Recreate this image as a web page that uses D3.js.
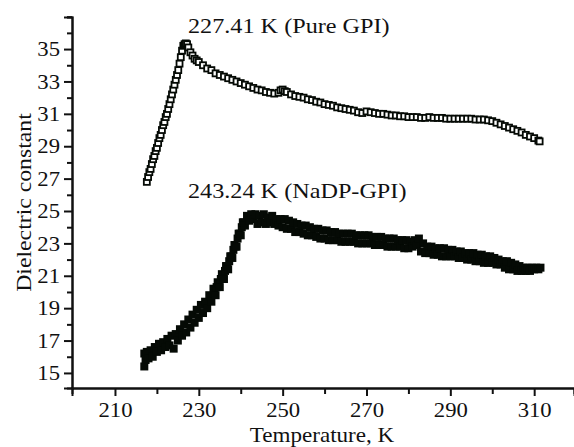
<!DOCTYPE html>
<html>
<head>
<meta charset="utf-8">
<script src="https://cdn.jsdelivr.net/npm/d3@7"></script>
<style>
  html, body { margin: 0; padding: 0; background: #fff; }
  svg { display: block; }
  text { font-family: 'Liberation Serif', 'Times New Roman', serif; fill: #111; }
</style>
</head>
<body>
<div id="chart"></div>
<script>
// Dielectric constant vs temperature
let pureLabel = '227.41 K (Pure GPI)'
let nadpLabel = '243.24 K (NaDP-GPI)'

let yMajor = [15, 17, 19, 21, 23, 25, 27, 29, 31, 33, 35]
let yMinor = [16, 18, 20, 22, 24, 26, 28, 30, 32, 34, 36]
let xMajor = [210, 230, 250, 270, 290, 310]
let xMinor = [220, 240, 260, 280, 300]

// [temperature K, dielectric constant]
let pureGPI = [
  [217.6, 26.8], [217.9, 27.1], [218.2, 27.4], [218.5, 27.6], [218.8, 27.9],
  [219.1, 28.2], [219.4, 28.4], [219.7, 28.7], [220.0, 28.9], [220.3, 29.2],
  [220.6, 29.5], [220.9, 29.7], [221.2, 30.0], [221.5, 30.3], [221.8, 30.5],
  [222.1, 30.8], [222.4, 31.0], [222.7, 31.3], [223.0, 31.6], [223.3, 31.9],
  [223.6, 32.2], [223.9, 32.5], [224.2, 32.8], [224.5, 33.1], [224.8, 33.4],
  [225.1, 33.7], [225.4, 34.1], [225.7, 34.5], [226.0, 34.9], [226.3, 35.2],
  [226.6, 35.3], [226.9, 35.35], [227.2, 35.3], [227.5, 35.1], [228.0, 34.8],
  [228.5, 34.6], [229.0, 34.4], [229.5, 34.3], [230.0, 34.2], [231, 34.0],
  [232, 33.8], [233, 33.7], [234, 33.5], [235, 33.4], [236, 33.3],
  [237, 33.2], [238, 33.1], [239, 33.0], [240, 32.9], [241, 32.8],
  [242, 32.7], [243, 32.6], [244, 32.5], [245, 32.45], [246, 32.35],
  [247, 32.3], [248, 32.25], [249, 32.3], [249.5, 32.45], [250, 32.5],
  [250.5, 32.4], [251, 32.35], [252, 32.2], [253, 32.1], [254, 32.05],
  [255, 32.0], [256, 31.9], [257, 31.85], [258, 31.75], [259, 31.7],
  [260, 31.6], [261, 31.55], [262, 31.5], [263, 31.4], [264, 31.35],
  [265, 31.3], [266, 31.25], [267, 31.2], [268, 31.1], [269, 31.05],
  [270, 31.15], [271, 31.1], [272, 31.05], [273, 31.0], [274, 31.0],
  [275, 30.95], [276, 30.9], [277, 30.9], [278, 30.85], [279, 30.85],
  [280, 30.8], [281, 30.8], [282, 30.8], [283, 30.75], [284, 30.75],
  [285, 30.8], [286, 30.75], [287, 30.75], [288, 30.75], [289, 30.7],
  [290, 30.7], [291, 30.7], [292, 30.7], [293, 30.7], [294, 30.7],
  [295, 30.7], [296, 30.65], [297, 30.65], [298, 30.65], [299, 30.6],
  [300, 30.55], [301, 30.45], [302, 30.35], [303, 30.25], [304, 30.15],
  [305, 30.05], [306, 29.95], [307, 29.85], [308, 29.7], [309, 29.6],
  [310, 29.5], [311, 29.35], [311.3, 29.3]
]

let nadpGPI = [
  [217.0, 15.4], [217.0, 16.2], [217.3, 15.8], [217.6, 16.3], [218.0, 15.9],
  [218.5, 16.4], [219.0, 16.0], [219.5, 16.6], [220.0, 16.3], [220.5, 16.8],
  [221.0, 16.4], [221.5, 16.9], [222.0, 16.6], [222.5, 17.1], [223.0, 16.7],
  [223.5, 17.3], [224.0, 16.5], [224.5, 17.4], [225.0, 17.0], [225.5, 17.7],
  [226.0, 17.3], [226.5, 18.0], [227.0, 17.5], [227.5, 18.3], [228.0, 17.8],
  [228.5, 18.6], [229.0, 18.1], [229.5, 18.9], [230.0, 18.4], [230.5, 19.2],
  [231.0, 18.7], [231.5, 19.4], [232.0, 19.0], [232.5, 19.8], [233.0, 19.4],
  [233.5, 20.2], [233.75, 19.9], [234.0, 19.8], [234.25, 20.3], [234.5, 20.6],
  [234.75, 20.5], [235.0, 20.3], [235.25, 20.8], [235.5, 21.1], [235.75, 21.0],
  [236.0, 20.8], [236.25, 21.3], [236.5, 21.6], [236.75, 21.6], [237.0, 21.4],
  [237.25, 21.9], [237.5, 22.2], [237.75, 22.2], [238.0, 22.1], [238.25, 22.6],
  [238.5, 22.9], [238.75, 22.8], [239.0, 22.8], [239.25, 23.3], [239.5, 23.6],
  [239.75, 23.6], [240.0, 23.5], [240.25, 24.0], [240.5, 24.3], [240.75, 24.3],
  [241.0, 24.1], [241.5, 24.7], [242.0, 24.4], [242.5, 24.8], [243.0, 24.5],
  [243.5, 24.8], [244.0, 24.2], [244.5, 24.7], [245.0, 24.3], [245.5, 24.8],
  [246.0, 24.2], [246.5, 24.6], [247.0, 24.3], [247.5, 24.7], [248.0, 24.2],
  [248.5, 24.5], [249.0, 24.1], [249.5, 24.5], [250.0, 24.0], [250.5, 24.5],
  [251.0, 23.9], [251.5, 24.4], [252.0, 23.9], [252.5, 24.3], [253.0, 23.7],
  [253.5, 24.2], [254.0, 23.7], [254.5, 24.1], [255.0, 23.6], [255.5, 24.1],
  [256.0, 23.5], [256.5, 24.0], [257.0, 23.5], [257.5, 23.9], [258.0, 23.4],
  [258.5, 23.9], [259.0, 23.3], [259.5, 23.8], [260.0, 23.3], [260.5, 23.8],
  [261.0, 23.2], [261.5, 23.7], [262.0, 23.2], [262.5, 23.7], [263.0, 23.2],
  [263.5, 23.6], [264.0, 23.1], [264.5, 23.6], [265.0, 23.1], [265.5, 23.6],
  [266.0, 23.1], [266.5, 23.6], [267.0, 23.1], [267.5, 23.5], [268.0, 23.0],
  [268.5, 23.5], [269.0, 23.0], [269.5, 23.5], [270.0, 23.0], [270.5, 23.5],
  [271.0, 23.0], [271.5, 23.4], [272.0, 22.9], [272.5, 23.4], [273.0, 22.9],
  [273.5, 23.4], [274.0, 22.9], [274.5, 23.3], [275.0, 22.8], [275.5, 23.3],
  [276.0, 22.8], [276.5, 23.3], [277.0, 22.8], [277.5, 23.2], [278.0, 22.8],
  [278.5, 23.2], [279.0, 22.7], [279.5, 23.2], [280.0, 22.7], [280.5, 23.1],
  [281.0, 22.8], [281.5, 23.2], [282.0, 22.9], [282.5, 23.3], [283.0, 22.5],
  [283.5, 23.0], [284.0, 22.4], [284.5, 22.8], [285.0, 22.4], [285.5, 22.8],
  [286.0, 22.3], [286.5, 22.7], [287.0, 22.3], [287.5, 22.7], [288.0, 22.2],
  [288.5, 22.7], [289.0, 22.2], [289.5, 22.6], [290.0, 22.2], [290.5, 22.6],
  [291.0, 22.2], [291.5, 22.5], [292.0, 22.1], [292.5, 22.5], [293.0, 22.1],
  [293.5, 22.4], [294.0, 22.0], [294.5, 22.4], [295.0, 22.0], [295.5, 22.4],
  [296.0, 21.9], [296.5, 22.3], [297.0, 21.9], [297.5, 22.3], [298.0, 21.8],
  [298.5, 22.2], [299.0, 21.8], [299.5, 22.2], [300.0, 21.8], [300.5, 22.1],
  [301.0, 21.7], [301.5, 22.0], [302.0, 21.7], [302.5, 21.9], [303.0, 21.5],
  [303.5, 21.9], [304.0, 21.4], [304.5, 21.8], [305.0, 21.4], [305.5, 21.7],
  [306.0, 21.3], [306.5, 21.6], [307.0, 21.3], [307.5, 21.5], [308.0, 21.3],
  [308.5, 21.5], [309.0, 21.3], [309.5, 21.5], [310.0, 21.4], [310.5, 21.5],
  [311.0, 21.4], [311.5, 21.5]
]

let margin = { top: 17, left: 72, right: 0, bottom: 59 }
let width = 574 - margin.left - margin.right
let height = 447 - margin.top - margin.bottom

let svg = d3
  .select('#chart')
  .append('svg')
  .attr('width', width + margin.left + margin.right)
  .attr('height', height + margin.top + margin.bottom)
  .append('g')
  .attr('transform', 'translate(' + margin.left + ',' + margin.top + ')')

let x = d3.scaleLinear().domain([199.75, 319.5]).range([0, width])
let y = d3.scaleLinear().domain([14.07, 36.98]).range([height, 0])

// widen text a little, the original type is set slightly wide
function stretch(sel, k) {
  sel.each(function() {
    let w = this.getComputedTextLength()
    d3.select(this).attr('textLength', w * k).attr('lengthAdjust', 'spacingAndGlyphs')
  })
}

// minor ticks first, then the major ones with labels
svg.append('g')
  .attr('class', 'axis')
  .call(d3.axisLeft(y).tickValues(yMinor.concat([37])).tickSize(5).tickFormat(''))
svg.append('g')
  .attr('class', 'axis')
  .call(d3.axisLeft(y).tickValues(yMajor).tickSize(8).tickPadding(4))

svg.append('g')
  .attr('class', 'axis')
  .attr('transform', `translate(0,${height})`)
  .call(d3.axisBottom(x).tickValues(xMinor).tickSize(6).tickFormat(''))
svg.append('g')
  .attr('class', 'axis')
  .attr('transform', `translate(0,${height})`)
  .call(d3.axisBottom(x).tickValues(xMajor).tickSize(8).tickPadding(6))

svg.selectAll('.axis path, .axis line')
  .attr('stroke', '#111')
  .attr('stroke-width', 2)
svg.selectAll('.axis text')
  .attr('font-size', 21)
  .attr('font-family', "'Liberation Serif', 'Times New Roman', serif")
  .attr('fill', '#111')
  .call(stretch, 1.08)

// axis titles
svg.append('text')
  .attr('x', width / 2 - 1)
  .attr('y', height + 54)
  .attr('text-anchor', 'middle')
  .attr('font-size', 21)
  .text('Temperature, K')
  .call(stretch, 1.1)

svg.append('text')
  .attr('transform', `translate(-41,${height / 2}) rotate(-90)`)
  .attr('text-anchor', 'middle')
  .attr('font-size', 21)
  .text('Dielectric constant')
  .call(stretch, 1.13)

// NaDP-GPI, filled squares
let s2 = 8
svg.append('g')
  .selectAll('rect')
  .data(nadpGPI)
  .enter()
  .append('rect')
  .attr('x', d => x(d[0]) - s2 / 2)
  .attr('y', d => y(d[1]) - s2 / 2)
  .attr('width', s2)
  .attr('height', s2)
  .attr('fill', '#050a05')

// Pure GPI, open squares
let s1 = 6
svg.append('g')
  .selectAll('rect')
  .data(pureGPI)
  .enter()
  .append('rect')
  .attr('x', d => x(d[0]) - s1 / 2)
  .attr('y', d => y(d[1]) - s1 / 2)
  .attr('width', s1)
  .attr('height', s1)
  .attr('fill', '#fff')
  .attr('stroke', '#050a05')
  .attr('stroke-width', 1.8)

// peak annotations
svg.append('text')
  .attr('x', 188 - margin.left)
  .attr('y', 33 - margin.top)
  .attr('font-size', 22)
  .text(pureLabel)
  .call(stretch, 1.1)

svg.append('text')
  .attr('x', 188 - margin.left)
  .attr('y', 198 - margin.top)
  .attr('font-size', 22)
  .text(nadpLabel)
  .call(stretch, 1.1)
</script>
</body>
</html>
